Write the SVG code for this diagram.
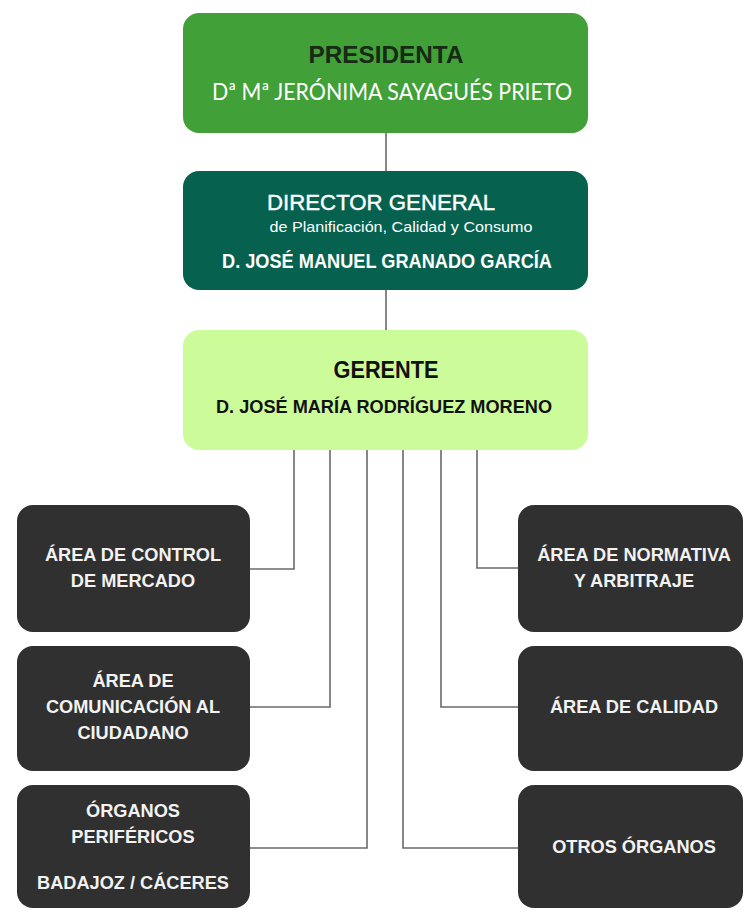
<svg xmlns="http://www.w3.org/2000/svg" width="744" height="912" viewBox="0 0 744 912">
<style>
.conn{fill:none;stroke:#6a6a6a;stroke-width:1.6}
.dark{fill:#303030}
.wt{font-family:"Liberation Sans",Arial,sans-serif;font-weight:bold;font-size:18.2px;fill:#f2f2f2;text-anchor:middle}
.ct{text-anchor:middle}
</style>
<rect width="744" height="912" fill="#ffffff"/>
<g id="connectors">
<line class="conn" x1="386" y1="133" x2="386" y2="171"/>
<line class="conn" x1="386" y1="290" x2="386" y2="330"/>
<polyline class="conn" points="294,450 294,569 250,569"/>
<polyline class="conn" points="330,450 330,707 250,707"/>
<polyline class="conn" points="367,450 367,848 250,848"/>
<polyline class="conn" points="477,450 477,568 518,568"/>
<polyline class="conn" points="441,450 441,707 518,707"/>
<polyline class="conn" points="403,450 403,848 518,848"/>
</g>
<g id="presidenta">
<rect x="183" y="13" width="405" height="120" rx="16" fill="#41a038"/>
<text class="ct" x="386" y="63" font-family="Liberation Sans,Arial,sans-serif" font-weight="bold" font-size="23" fill="#172a15" textLength="155" lengthAdjust="spacingAndGlyphs">PRESIDENTA</text>
<text class="ct" x="392" y="100" font-family="Lato,'Open Sans',sans-serif" font-size="23" fill="#ffffff" textLength="360" lengthAdjust="spacingAndGlyphs">Dª Mª JERÓNIMA SAYAGUÉS PRIETO</text>
</g>
<g id="director">
<rect x="183" y="171" width="405" height="119" rx="16" fill="#06614f"/>
<text class="ct" x="381" y="210" font-family="Liberation Sans,Arial,sans-serif" font-size="22" fill="#ffffff" stroke="#ffffff" stroke-width="0.4" textLength="228" lengthAdjust="spacingAndGlyphs">DIRECTOR GENERAL</text>
<text class="ct" x="401" y="232" font-family="Liberation Sans,Arial,sans-serif" font-size="15" fill="#ffffff" textLength="263" lengthAdjust="spacingAndGlyphs">de Planificación, Calidad y Consumo</text>
<text class="ct" x="387" y="268" font-family="Liberation Sans,Arial,sans-serif" font-weight="bold" font-size="20" fill="#ffffff" textLength="330" lengthAdjust="spacingAndGlyphs">D. JOSÉ MANUEL GRANADO GARCÍA</text>
</g>
<g id="gerente">
<rect x="183" y="330" width="405" height="120" rx="16" fill="#ccfc9a"/>
<text class="ct" x="386" y="378" font-family="Liberation Sans,Arial,sans-serif" font-weight="bold" font-size="23" fill="#111111" textLength="105" lengthAdjust="spacingAndGlyphs">GERENTE</text>
<text class="ct" x="384" y="413" font-family="Liberation Sans,Arial,sans-serif" font-weight="bold" font-size="19" fill="#111111" textLength="336" lengthAdjust="spacingAndGlyphs">D. JOSÉ MARÍA RODRÍGUEZ MORENO</text>
</g>
<g id="control-mercado">
<rect class="dark" x="17" y="505" width="233" height="127" rx="16"/>
<text class="wt" x="133" y="561">ÁREA DE CONTROL</text>
<text class="wt" x="133" y="587">DE MERCADO</text>
</g>
<g id="comunicacion">
<rect class="dark" x="17" y="646" width="233" height="125" rx="16"/>
<text class="wt" x="133" y="687">ÁREA DE</text>
<text class="wt" x="133" y="713">COMUNICACIÓN AL</text>
<text class="wt" x="133" y="739">CIUDADANO</text>
</g>
<g id="perifericos">
<rect class="dark" x="17" y="785" width="233" height="123" rx="16"/>
<text class="wt" x="133" y="817">ÓRGANOS</text>
<text class="wt" x="133" y="843">PERIFÉRICOS</text>
<text class="wt" x="133" y="889">BADAJOZ / CÁCERES</text>
</g>
<g id="normativa">
<rect class="dark" x="518" y="505" width="225" height="127" rx="16"/>
<text class="wt" x="634" y="561">ÁREA DE NORMATIVA</text>
<text class="wt" x="634" y="587">Y ARBITRAJE</text>
</g>
<g id="calidad">
<rect class="dark" x="518" y="646" width="225" height="125" rx="16"/>
<text class="wt" x="634" y="713">ÁREA DE CALIDAD</text>
</g>
<g id="otros">
<rect class="dark" x="518" y="785" width="225" height="123" rx="16"/>
<text class="wt" x="634" y="853">OTROS ÓRGANOS</text>
</g>
</svg>
